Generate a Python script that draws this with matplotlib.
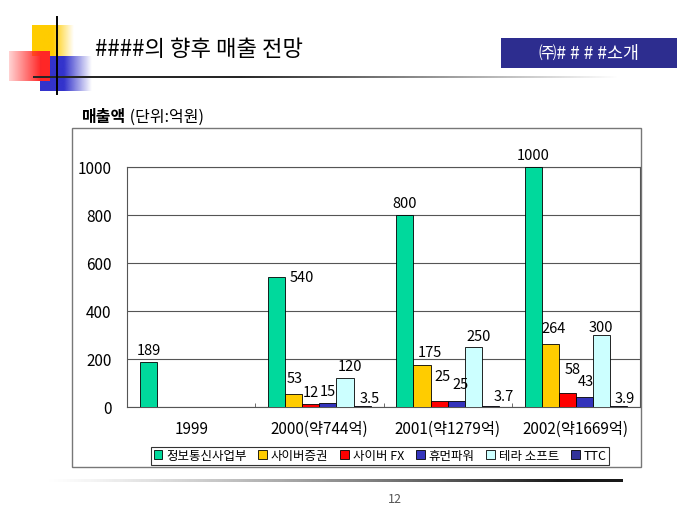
import numpy as np
import matplotlib
matplotlib.use("Agg")
import matplotlib.pyplot as plt
from matplotlib.patches import Rectangle, Patch

plt.rcParams['font.family'] = ['Noto Sans CJK KR', 'DejaVu Sans']

# ---------------- data ----------------
categories = ['1999', '2000(약744억)', '2001(약1279억)', '2002(약1669억)']
series_names = ['정보통신사업부', '사이버증권', '사이버 FX', '휴먼파워', '테라 소프트', 'TTC']
info_comm = [189, 540, 800, 1000]
cyber_sec = [np.nan, 53, 175, 264]
cyber_fx = [np.nan, 12, 25, 58]
human_power = [np.nan, 15, 25, 43]
terra_soft = [np.nan, 120, 250, 300]
ttc = [np.nan, 3.5, 3.7, 3.9]
yticks = [0, 200, 400, 600, 800, 1000]

series_values = [info_comm, cyber_sec, cyber_fx, human_power, terra_soft, ttc]
colors = ['#00D99C', '#FFCC00', '#FF0000', '#3333BB', '#CCFFFF', '#333399']

# label offsets in pixels (dx, dy) relative to bar top centre (styling only)
label_offsets = {
    (0, 1): (25, 0), (1, 2): (8, 13), (2, 2): (3, 25), (3, 2): (4, 17),
    (1, 1): (1, 16), (4, 1): (5, 12), (5, 1): (8, 8), (4, 2): (5, 11),
    (5, 2): (13, 10), (1, 3): (3, 16), (2, 3): (5, 24), (3, 3): (1, 16),
    (4, 3): (-1, 8), (5, 3): (6, 8),
}

W, H = 680, 510
fig = plt.figure(figsize=(W / 100, H / 100), dpi=100)
fig.patch.set_facecolor('white')

# ---------------- overlay (slide decoration) ----------------
ov = fig.add_axes([0, 0, 1, 1])
ov.set_xlim(0, W)
ov.set_ylim(H, 0)
ov.axis('off')
ov.patch.set_alpha(0)


def grad_rect(x0, x1, y0, y1, rgb, alpha_fn, z):
    xs = np.linspace(x0, x1, 200)
    arr = np.zeros((1, 200, 4))
    arr[..., :3] = rgb
    arr[0, :, 3] = alpha_fn(xs)
    ov.imshow(arr, extent=(x0, x1, y1, y0), aspect='auto',
              interpolation='bilinear', zorder=z)


grad_rect(32, 74, 26, 57, (1.0, 0.8, 0.0),
          lambda x: np.clip((74 - x) / 21, 0, 1), 1)
grad_rect(40, 92, 57, 92, (0.2, 0.2, 0.8),
          lambda x: np.clip((92 - x) / 28, 0, 1), 2)
grad_rect(9, 50, 52, 82, (1.0, 0.15, 0.15),
          lambda x: np.clip(0.2 + (x - 9) / 32 * 0.8, 0, 1), 3)
ov.plot([57, 57], [18, 95], color='black', lw=1.4, zorder=5)
grad_rect(33, 620, 77.3, 78.9, (0.15, 0.15, 0.15),
          lambda x: np.clip((620 - x) / 380, 0, 1), 4)

ov.text(95, 50, '####의 향후 매출 전망', fontsize=16, va='center', ha='left',
        color='black', zorder=6)
ov.add_patch(Rectangle((501, 39), 176, 30, facecolor='#2D2D8F',
                       edgecolor='none', zorder=6))
ov.text(589, 54, '㈜# # # #소개', fontsize=12.5, color='white', va='center',
        ha='center', zorder=7)

t1 = ov.text(82, 117, '매출액', fontsize=11.5, fontweight='bold',
             va='center', ha='left')
ov.annotate(' (단위:억원)', xy=(1, 0.5), xycoords=t1, va='center', ha='left',
            fontsize=11.5)

# outer chart frame
ov.add_patch(Rectangle((72, 129), 569, 339, facecolor='none',
                       edgecolor='#777777', lw=1.0, zorder=1))

# footer line and page number
grad_rect(40, 623, 481, 483.5, (0.1, 0.1, 0.1),
          lambda x: np.clip((x - 40) / 520, 0, 1) ** 1.3, 4)
ov.text(395, 500, '12', fontsize=9, color='#555555', ha='center', va='center')

# ---------------- bar chart ----------------
ax = fig.add_axes([127 / W, 1 - 408 / H, 513 / W, 240 / H])
ax.set_facecolor('white')
n = len(series_values)
width = 0.1333
x = np.arange(len(categories))
for j, (vals, c) in enumerate(zip(series_values, colors)):
    pos = x + (j - (n - 1) / 2) * width
    ax.bar(pos, vals, width, color=c, edgecolor='black', linewidth=0.6,
           zorder=3)
    for i, v in enumerate(vals):
        if np.isnan(v):
            continue
        dx, dy = label_offsets.get((j, i), (0, 12))
        lab = ('%g' % v)
        ax.annotate(lab, xy=(pos[i], v), xytext=(dx * 0.72, dy * 0.72),
                    textcoords='offset points', ha='center', va='center',
                    fontsize=10.5, annotation_clip=False, zorder=5)

ax.set_xlim(-0.5, len(categories) - 0.5)
ax.set_ylim(0, 1000)
ax.set_yticks(yticks)
ax.set_yticklabels([str(t) for t in yticks], fontsize=11)
ax.set_xticks(x)
ax.set_xticklabels(categories, fontsize=11)
ax.set_xticks(np.arange(len(categories) + 1) - 0.5, minor=True)
ax.tick_params(axis='y', length=0, pad=11)
ax.tick_params(axis='x', which='major', length=0, pad=9)
ax.tick_params(axis='x', which='minor', direction='in', length=3,
               color='#555555')
ax.yaxis.grid(True, color='#555555', lw=0.8, zorder=0)
ax.set_axisbelow(True)
for s in ax.spines.values():
    s.set_color('#555555')
    s.set_linewidth(0.8)

handles = [Patch(facecolor=c, edgecolor='black', linewidth=0.6)
           for c in colors]
leg = fig.legend(handles, series_names, loc='center',
                 bbox_to_anchor=(380 / W, 1 - 456.5 / H), ncol=6,
                 fontsize=9, frameon=True, fancybox=False,
                 edgecolor='black', handlelength=0.7, handleheight=0.7,
                 handletextpad=0.3, columnspacing=0.95, borderpad=0.2,
                 borderaxespad=0)
leg.get_frame().set_linewidth(0.8)

fig.savefig('out.png', dpi=100, facecolor='white')
